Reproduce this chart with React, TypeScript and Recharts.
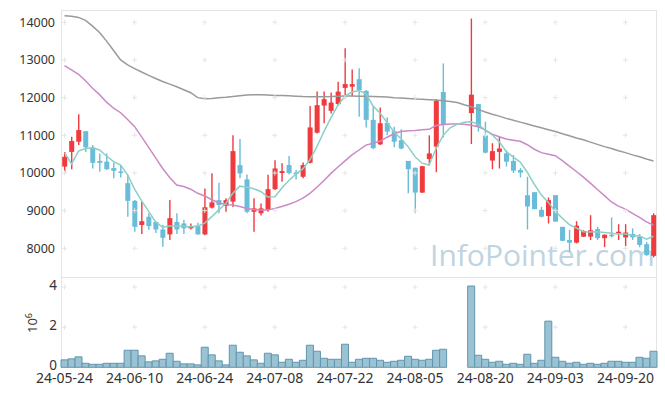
import React from 'react';
import { ComposedChart, Bar, Line, XAxis, YAxis, ReferenceDot } from 'recharts';

const dates = [
  '24-05-24', '24-05-27', '24-05-28', '24-05-29', '24-05-30', '24-05-31', '24-06-03', '24-06-04', '24-06-05', '24-06-07',
  '24-06-10', '24-06-11', '24-06-12', '24-06-13', '24-06-14', '24-06-17', '24-06-18', '24-06-19', '24-06-20', '24-06-21',
  '24-06-24', '24-06-25', '24-06-26', '24-06-27', '24-06-28', '24-07-01', '24-07-02', '24-07-03', '24-07-04', '24-07-05',
  '24-07-08', '24-07-09', '24-07-10', '24-07-11', '24-07-12', '24-07-15', '24-07-16', '24-07-17', '24-07-18', '24-07-19',
  '24-07-22', '24-07-23', '24-07-24', '24-07-25', '24-07-26', '24-07-29', '24-07-30', '24-07-31', '24-08-01', '24-08-02',
  '24-08-05', '24-08-06', '24-08-07', '24-08-08', '24-08-09', '24-08-12', '24-08-13', '24-08-14', '24-08-16', '24-08-19',
  '24-08-20', '24-08-21', '24-08-22', '24-08-23', '24-08-26', '24-08-27', '24-08-28', '24-08-29', '24-08-30', '24-09-02',
  '24-09-03', '24-09-04', '24-09-05', '24-09-06', '24-09-09', '24-09-10', '24-09-11', '24-09-12', '24-09-13', '24-09-19',
  '24-09-20', '24-09-23', '24-09-24', '24-09-25', '24-09-26',
];

const opens = [
  10170, 10560, 10830, 11110, 10680, 10320, 10300, 10130, 10040, 9730,
  9260, 8620, 8840, 8700, 8500, 8370, 8700, 8660, 8530, 8590,
  8370, 9080, 9280, 9130, 9240, 10210, 9830, 8970, 8930, 9020,
  9570, 10000, 10210, 10010, 9900, 10270, 11070, 11790, 11650, 11830,
  12260, 12290, 12490, 12180, 11410, 10760, 11330, 11110, 10870, 10320,
  10140, 9480, 10370, 10700, 12150, null, null, null, 11590, 11830,
  11000, 10330, 10560, 10520, 10320, 10080, 9410, 9490, 9020, 8860,
  9410, 8570, 8220, 8150, 8310, 8310, 8510, 8270, 8360, 8410,
  8290, 8380, 8310, 8110, 7800,
];

const closes = [
  10430, 10850, 11140, 10680, 10270, 10270, 10100, 10060, 10010, 9260,
  8570, 8720, 8590, 8500, 8280, 8800, 8500, 8530, 8570, 8370,
  9090, 9220, 9150, 9280, 10580, 9990, 8970, 9060, 9060, 9570,
  10120, 10050, 10000, 9980, 10210, 11210, 11800, 11960, 11870, 12160,
  12360, 12360, 12200, 11410, 10660, 11320, 11100, 10830, 10650, 10100,
  9480, 10180, 10520, 11920, 11290, null, null, null, 12080, 11230,
  10540, 10580, 10650, 10300, 10060, 10010, 9110, 9040, 8840, 9280,
  8710, 8200, 8150, 8600, 8460, 8480, 8270, 8360, 8330, 8440,
  8420, 8290, 8090, 7820, 8880,
];

const highs = [
  10560, 10960, 11560, 11110, 10740, 10520, 10520, 10280, 10210, 9950,
  9280, 9240, 8930, 8710, 8620, 9280, 8930, 8750, 8660, 8680,
  9590, 9990, 9740, 9330, 11000, 10900, 9960, 9330, 9190, 9950,
  10340, 10260, 10450, 10080, 10280, 11780, 12160, 12160, 12140, 12420,
  13310, 12750, 12780, 12200, 11760, 11740, 11480, 11230, 11160, 10320,
  10140, 10190, 11000, 11960, 12910, null, null, null, 14100, 11830,
  11360, 10790, 10960, 10600, 10480, 10130, 9900, 9490, 9100, 9350,
  9410, 8570, 8490, 8720, 8480, 8880, 8570, 8370, 8820, 8640,
  8640, 8530, 8380, 8170, 8930,
];

const lows = [
  9990, 10100, 10740, 10560, 10120, 10030, 10080, 9860, 9880, 8840,
  8440, 8380, 8490, 8410, 8040, 8220, 8380, 8380, 8500, 8360,
  8350, 9060, 8930, 8970, 9100, 9860, 8930, 8440, 8870, 8970,
  9550, 9770, 9960, 9830, 9860, 10250, 11050, 11320, 11580, 11800,
  11980, 12040, 11490, 11210, 10630, 10740, 11010, 10680, 10630, 9460,
  8930, 9470, 10210, 10020, 10940, null, null, null, 10770, 11100,
  10520, 10100, 10120, 10170, 10000, 9880, 8500, 9040, 8820, 8660,
  8700, 8190, 7910, 8130, 8300, 8220, 8220, 8030, 8290, 8220,
  8060, 8220, 8030, 7800, 7760,
];

const volumes = [
  370000, 420000, 520000, 200000, 150000, 150000, 200000, 200000, 200000, 850000,
  850000, 570000, 270000, 320000, 400000, 700000, 300000, 170000, 170000, 120000,
  1000000, 620000, 320000, 120000, 1100000, 750000, 570000, 370000, 200000, 700000,
  620000, 250000, 400000, 250000, 350000, 1100000, 800000, 450000, 400000, 400000,
  1150000, 250000, 400000, 450000, 450000, 350000, 250000, 300000, 350000, 550000,
  400000, 350000, 400000, 850000, 900000, null, null, null, 4050000, 600000,
  400000, 250000, 300000, 150000, 200000, 150000, 650000, 200000, 350000, 2300000,
  500000, 300000, 200000, 250000, 150000, 200000, 150000, 200000, 300000, 300000,
  250000, 250000, 500000, 450000, 800000,
];

const ma5 = [
  10540, 10240, 10580, 10650, 10670, 10610, 10450, 10300, 10210, 9950,
  9570, 9260, 8980, 8700, 8560, 8590, 8590, 8580, 8570, 8590,
  8670, 8840, 9020, 9190, 9460, 9650, 9620, 9580, 9510, 9360,
  9370, 9600, 9800, 9970, 10110, 10350, 10700, 11100, 11470, 11800,
  12040, 12150, 12190, 12100, 11780, 11590, 11340, 11090, 10910, 10700,
  10430, 10260, 10210, 10650, 11000, 11200, 11290, 11345, 11360, 11290,
  11140, 11010, 10830, 10570, 10420, 10290, 10020, 9700, 9420, 9220,
  8980, 8800, 8630, 8540, 8440, 8430, 8440, 8420, 8400, 8380,
  8380, 8340, 8330, 8245, 8320,
];

const ma20 = [
  12850, 12740, 12620, 12450, 12250, 12080, 11880, 11720, 11600, 11420,
  11230, 10960, 10680, 10400, 10120, 9880, 9680, 9640, 9570, 9460,
  9390, 9290, 9210, 9160, 9150, 9110, 9060, 9030, 9020, 9020,
  9060, 9110, 9170, 9240, 9330, 9460, 9620, 9800, 9990, 10160,
  10320, 10480, 10610, 10740, 10790, 10840, 10950, 11040, 11100, 11120,
  11130, 11150, 11160, 11260, 11290, 11300, 11300, 11295, 11270, 11230,
  11140, 11030, 10960, 10900, 10870, 10840, 10750, 10630, 10540, 10500,
  10460, 10330, 10180, 10040, 9890, 9730, 9560, 9400, 9230, 9120,
  9040, 8930, 8820, 8700, 8620,
];

const ma60 = [
  14175, 14160, 14130, 14050, 13900, 13730, 13500, 13250, 13000, 12870,
  12770, 12680, 12590, 12510, 12430, 12360, 12290, 12210, 12130, 12000,
  11970, 11980, 12000, 12010, 12030, 12050, 12070, 12080, 12080, 12070,
  12060, 12055, 12050, 12040, 12030, 12025, 12025, 12025, 12030, 12040,
  12045, 12045, 12040, 12035, 12030, 12025, 12020, 12000, 11990, 11980,
  11965, 11955, 11945, 11935, 11920, 11900, 11870, 11810, 11760, 11690,
  11620, 11560, 11510, 11450, 11400, 11350, 11300, 11250, 11200, 11150,
  11100, 11040, 10990, 10930, 10880, 10820, 10760, 10700, 10650, 10590,
  10540, 10480, 10430, 10370, 10320,
];

const priceTicks = [8000, 9000, 10000, 11000, 12000, 13000, 14000];
const volumeTicks = [0, 2000000, 4000000];
const gridDates = dates.filter((_, i) => i % 10 === 0);

const RED = '#ef3a3e';
const BLUE = '#69bdd9';
const FONT = '"Noto Sans", "DejaVu Sans", sans-serif';

const data = dates.map((date, i) => ({
  date,
  open: opens[i],
  close: closes[i],
  high: highs[i],
  low: lows[i],
  range: highs[i] == null ? null : [lows[i], highs[i]],
  volume: volumes[i],
  ma5: ma5[i],
  ma20: ma20[i],
  ma60: ma60[i],
}));

function Candle(props: any) {
  const { x, y, width, height, payload } = props;
  if (!payload || payload.open == null) return null;
  const { open: o, close: c, high: h, low: l } = payload;
  const top = Math.min(y, y + height);
  const span = Math.abs(height);
  const px = (v: number) => (h === l ? top : top + ((h - v) / (h - l)) * span);
  const cx = x + width / 2;
  const color = c >= o ? RED : BLUE;
  const bodyTop = px(Math.max(o, c));
  const bodyH = Math.max(1.5, px(Math.min(o, c)) - bodyTop);
  return (
    <g>
      <line x1={cx} x2={cx} y1={top} y2={top + span} stroke={color} strokeWidth={1.4} />
      <rect x={cx - 2.5} y={bodyTop} width={5} height={bodyH} fill={color} />
    </g>
  );
}

function Cross(props: any) {
  const { cx, cy } = props;
  return (
    <g>
      <line x1={cx - 2.5} x2={cx + 2.5} y1={cy} y2={cy} stroke="#e6e6e6" strokeWidth={1} />
      <line x1={cx} x2={cx} y1={cy - 2.5} y2={cy + 2.5} stroke="#e6e6e6" strokeWidth={1} />
    </g>
  );
}

export default function App() {
  return (
    <div style={{ position: 'absolute', left: 0, top: 0, width: 665, height: 396, background: '#fff', fontFamily: FONT }}>
      <svg width={665} height={396} style={{ position: 'absolute', left: 0, top: 0 }}>
        <text x={430} y={266} fontFamily='"Open Sans", sans-serif' fontSize={30} fill="#bfd4e1">
          InfoPointer.com
        </text>
        <text transform="translate(37,333) rotate(-90)" fontFamily={FONT} fontSize={13} fill="#333">
          10<tspan dy={-5} fontSize={9}>6</tspan>
        </text>
      </svg>
      <div style={{ position: 'absolute', left: 61, top: 10, width: 596, height: 268, border: '1px solid #e4e4e4', boxSizing: 'border-box' }} />
      <div style={{ position: 'absolute', left: 61, top: 277, width: 596, height: 91, borderLeft: '1px solid #e4e4e4', borderRight: '1px solid #e4e4e4', boxSizing: 'border-box' }} />

      <div style={{ position: 'absolute', left: 0, top: 0 }}>
        <ComposedChart width={665} height={278} data={data} margin={{ top: 10, right: 8, bottom: 0, left: 0 }}>
          <XAxis dataKey="date" hide />
          <YAxis
            domain={[7212, 14327]}
            ticks={priceTicks}
            width={61}
            axisLine={false}
            tickLine={false}
            tickSize={0}
            tickMargin={6}
            tick={{ fill: '#333', fontSize: 12.5, fontFamily: FONT }}
          />
          {gridDates.map((d) =>
            priceTicks.map((t) => <ReferenceDot key={d + t} x={d} y={t} r={0} shape={Cross} />)
          )}
          <Bar dataKey="range" shape={Candle} isAnimationActive={false} />
          <Line dataKey="ma60" stroke="#9a9a9a" strokeWidth={1.5} dot={false} connectNulls isAnimationActive={false} />
          <Line dataKey="ma20" stroke="#c98ac6" strokeWidth={1.5} dot={false} connectNulls isAnimationActive={false} />
          <Line dataKey="ma5" stroke="#8ccfc5" strokeWidth={1.5} dot={false} connectNulls isAnimationActive={false} />
        </ComposedChart>
      </div>

      <div style={{ position: 'absolute', left: 0, top: 266 }}>
        <ComposedChart width={665} height={130} data={data} barCategoryGap={0} margin={{ top: 12, right: 8, bottom: 0, left: 0 }}>
          <XAxis
            dataKey="date"
            interval={9}
            height={28.7}
            axisLine={false}
            tickLine={false}
            tickSize={0}
            tickMargin={6}
            tick={{ fill: '#333', fontSize: 14, fontFamily: FONT }}
          />
          <YAxis
            domain={[0, 4450000]}
            ticks={volumeTicks}
            width={61}
            axisLine={false}
            tickLine={false}
            tickSize={0}
            tickMargin={4}
            tickFormatter={(v: number) => String(v / 1000000)}
            tick={{ fill: '#333', fontSize: 13.5, fontFamily: FONT, dy: -2 }}
          />
          {gridDates.map((d) =>
            volumeTicks.slice(1).map((t) => <ReferenceDot key={d + t} x={d} y={t} r={0} shape={Cross} />)
          )}
          <Bar dataKey="volume" fill="#9bc2d3" stroke="#5f96ae" strokeWidth={1} isAnimationActive={false} />
        </ComposedChart>
      </div>
    </div>
  );
}
